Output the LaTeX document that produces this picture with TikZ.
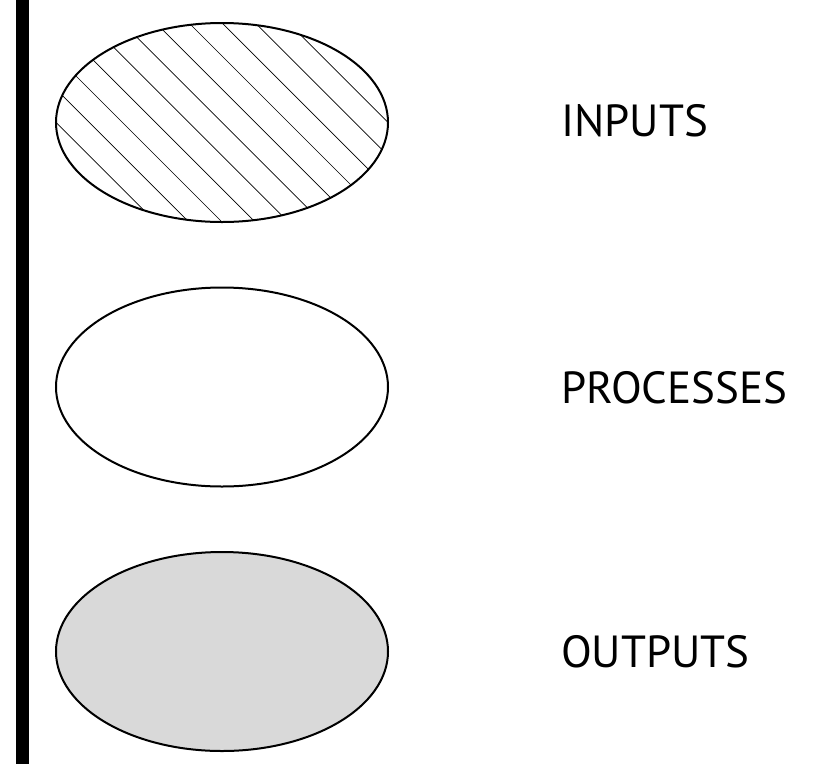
\documentclass[tikz,border=0pt]{standalone}
\usepackage{fontspec}
\setmainfont{PT Sans}
\usetikzlibrary{shapes.geometric}

\begin{document}
\begin{tikzpicture}[x=1pt,y=-1pt]
  \tikzstyle{set}=[ellipse,draw,line width=2pt,inner sep=0pt,minimum width=332pt,minimum height=199pt]
  \tikzstyle{hatch}=[line width=0.7pt]
  \tikzstyle{label}=[anchor=west,inner sep=0pt,font=\fontsize{45}{45}\selectfont]

  \useasboundingbox (0,0) rectangle (825,764);
  \fill (16,0) rectangle (29,764);

  \node[set,path picture={
      \foreach \c in {-3,...,9}
        \draw[hatch] (\c*33.2-249.5,-150) -- ++(320,320);
    }] (inputs) at (222,122.5) {};
  \node[set] (processes) at (222,387) {};
  \node[set,fill=black!15] (outputs) at (222,651.5) {};

  \node[label] (inputstext) at (561,121) {INPUTS};
  \node[label] (processestext) at (561,387.5) {PROCESSES};
  \node[label] (outputstext) at (561,652) {OUTPUTS};

\end{tikzpicture}
\end{document}
